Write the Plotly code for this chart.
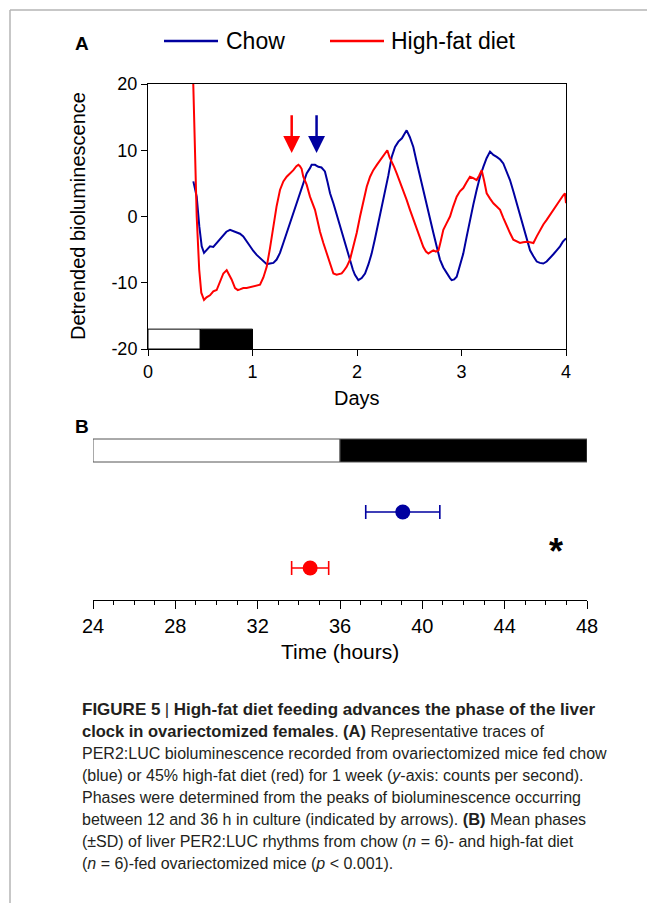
import plotly.graph_objects as go

W, H = 647, 903
FONT = "Liberation Sans, Arial, sans-serif"
BLUE = "#0000a0"
RED = "#ff0000"

# ---------------- Data ----------------
chow_days = [0.434, 0.466, 0.491, 0.514, 0.536, 0.56, 0.593, 0.625, 0.657, 0.69, 0.72, 0.75, 0.785, 0.815,
             0.848, 0.88, 0.912, 0.944, 0.976, 1.008, 1.04, 1.072, 1.104, 1.136, 1.167, 1.2, 1.231, 1.263,
             1.295, 1.327, 1.359, 1.39, 1.423, 1.454, 1.486, 1.518, 1.55, 1.566, 1.598, 1.63, 1.66, 1.693,
             1.718, 1.742, 1.774, 1.805, 1.837, 1.869, 1.9, 1.933, 1.96, 1.98, 2.013, 2.045, 2.077, 2.11,
             2.14, 2.17, 2.204, 2.236, 2.268, 2.30, 2.332, 2.364, 2.396, 2.43, 2.455, 2.475, 2.505, 2.539,
             2.57, 2.603, 2.635, 2.667, 2.70, 2.731, 2.762, 2.794, 2.826, 2.858, 2.89, 2.906, 2.93, 2.954,
             2.985, 3.017, 3.05, 3.081, 3.113, 3.145, 3.177, 3.209, 3.24, 3.273, 3.305, 3.337, 3.37, 3.4,
             3.432, 3.464, 3.496, 3.528, 3.56, 3.592, 3.624, 3.656, 3.688, 3.72, 3.75, 3.783, 3.815, 3.847,
             3.879, 3.911, 3.943, 3.97, 4.0]
chow_vals = [5.3, 3.0, -1.5, -4.5, -5.5, -5.0, -4.5, -4.6, -4.0, -3.3, -2.8, -2.3, -2.0, -2.2,
             -2.3, -2.6, -3.0, -3.8, -4.5, -5.2, -5.8, -6.3, -6.8, -7.2, -7.1, -7.0, -6.5, -5.5,
             -4.0, -2.5, -1.0, 0.5, 2.0, 3.3, 5.0, 6.5, 7.3, 7.8, 7.8, 7.5, 7.4, 6.8,
             5.2, 3.5, 2.0, 0.3, -1.5, -3.3, -5.0, -6.8, -8.0, -8.8, -9.6, -9.3, -8.6, -7.2,
             -5.6, -3.5, -1.0, 1.2, 3.5, 6.2, 9.0, 10.5, 11.3, 11.8, 12.5, 13.0, 12.0, 10.5,
             8.3, 6.0, 4.0, 2.0, -0.3, -2.5, -4.5, -6.5, -7.7, -8.6, -9.3, -9.6, -9.5, -9.1,
             -7.5, -5.6, -3.0, -0.5, 1.8, 4.0, 6.0, 7.5, 8.8, 9.8, 9.3, 9.0, 8.6, 8.0,
             6.8, 5.5, 3.8, 2.0, 0.2, -1.5, -3.3, -5.1, -6.0, -6.8, -7.0, -7.1, -6.8, -6.3,
             -5.7, -5.1, -4.5, -3.8, -3.3]

hfd_days = [0.43, 0.445, 0.466, 0.49, 0.51, 0.536, 0.56, 0.593, 0.625, 0.657, 0.69, 0.721, 0.753, 0.78,
            0.80, 0.833, 0.86, 0.88, 0.912, 0.944, 0.976, 1.008, 1.04, 1.072, 1.104, 1.136, 1.167, 1.199,
            1.23, 1.263, 1.295, 1.327, 1.36, 1.391, 1.42, 1.439, 1.454, 1.47, 1.486, 1.518, 1.55, 1.582,
            1.598, 1.62, 1.646, 1.678, 1.71, 1.742, 1.774, 1.805, 1.837, 1.853, 1.869, 1.901, 1.933, 1.965,
            1.997, 2.029, 2.06, 2.093, 2.125, 2.156, 2.19, 2.22, 2.255, 2.29, 2.31, 2.332, 2.355, 2.38,
            2.41, 2.443, 2.475, 2.507, 2.54, 2.571, 2.603, 2.635, 2.66, 2.683, 2.71, 2.731, 2.755, 2.78,
            2.80, 2.826, 2.858, 2.89, 2.92, 2.954, 2.985, 3.017, 3.05, 3.081, 3.113, 3.145, 3.17, 3.193,
            3.215, 3.241, 3.273, 3.305, 3.337, 3.369, 3.40, 3.432, 3.464, 3.496, 3.528, 3.56, 3.59, 3.624,
            3.656, 3.688, 3.72, 3.751, 3.783, 3.815, 3.847, 3.879, 3.91, 3.943, 3.974, 3.99, 4.0]
hfd_vals = [22.0, 12.0, 0.0, -8.0, -11.5, -12.6, -12.2, -11.9, -11.3, -11.1, -9.8, -8.6, -8.1, -8.8,
            -9.5, -10.8, -11.1, -11.0, -10.8, -10.8, -10.7, -10.6, -10.5, -10.3, -9.2, -7.6, -4.8, -1.5,
            1.5, 4.0, 5.3, 6.0, 6.5, 7.0, 7.6, 7.8, 7.6, 7.2, 6.0, 4.8, 3.0, 1.5,
            1.0, -0.5, -2.3, -4.0, -5.6, -7.2, -8.6, -8.8, -8.7, -8.6, -8.3, -7.6, -6.5, -4.6,
            -2.5, 0.0, 2.3, 4.5, 6.0, 7.0, 7.8, 8.5, 9.2, 10.0, 9.0, 8.3, 7.5, 6.5,
            5.3, 4.0, 2.5, 1.0, -0.5, -2.0, -3.3, -4.6, -5.3, -5.6, -5.3, -5.1, -5.3, -5.1,
            -3.8, -2.0, -1.0, 0.0, 1.5, 3.0, 3.8, 4.3, 5.2, 6.0, 5.8, 5.5, 6.2, 7.0,
            5.5, 3.5, 2.7, 2.0, 1.5, 1.0, -0.2, -1.5, -2.5, -3.5, -3.8, -4.0, -3.9, -3.8,
            -3.9, -4.0, -3.0, -2.0, -1.2, -0.5, 0.3, 1.0, 1.8, 2.5, 3.2, 3.5, 2.0]

# Peak arrows (panel A): day of peak for each series
arrow_days = {"HFD": 1.375, "Chow": 1.613}
arrow_tip_val, arrow_tail_val = 9.6, 15.5

# Light/dark bar for panel A (days) and panel B (hours)
ld_a = [(0.0, 0.5, "white"), (0.5, 1.0, "black")]
ld_b = [(24, 36, "white"), (36, 48, "black")]

# Panel B: mean phase (hours) and SD
groups = ["Chow", "High-fat diet"]
phase_mean = [39.05, 34.55]
phase_sd = [1.8, 0.9]
group_colors = [BLUE, RED]

a_xticks = [0, 1, 2, 3, 4]
a_yticks = [-20, -10, 0, 10, 20]
a_yticktext = ["-20", "-10", "0", "10", "20"]
b_xticks = [24, 28, 32, 36, 40, 44, 48]


def px(x):
    return x / W


def py(y):
    return 1 - y / H


fig = go.Figure()

fig.add_trace(go.Scatter(x=chow_days, y=chow_vals, mode="lines", name="Chow",
                         line=dict(color=BLUE, width=2), xaxis="x", yaxis="y", showlegend=False))
fig.add_trace(go.Scatter(x=hfd_days, y=hfd_vals, mode="lines", name="High-fat diet",
                         line=dict(color=RED, width=2), xaxis="x", yaxis="y", showlegend=False))

row_y = [88, 32]
for g, m, s, c, ry in zip(groups, phase_mean, phase_sd, group_colors, row_y):
    fig.add_trace(go.Scatter(x=[m], y=[ry], mode="markers", name=g,
                             marker=dict(color=c, size=15, symbol="circle"),
                             error_x=dict(type="data", array=[s], color=c, thickness=1.6, width=7),
                             xaxis="x2", yaxis="y2", showlegend=False))

shapes = []
# page border lines
shapes.append(dict(type="line", xref="paper", yref="paper", x0=px(10), x1=px(647), y0=py(10), y1=py(10),
                   line=dict(color="#b5b5b5", width=1.5)))
shapes.append(dict(type="line", xref="paper", yref="paper", x0=px(10), x1=px(10), y0=py(10), y1=py(903),
                   line=dict(color="#b5b5b5", width=1.5)))
for x0, x1, col in ld_a:
    shapes.append(dict(type="rect", xref="x", yref="y", x0=x0, x1=x1, y0=-20, y1=-17,
                       fillcolor=col, line=dict(color="black", width=1), layer="above"))
for x0, x1, col in ld_b:
    shapes.append(dict(type="rect", xref="x2", yref="y2", x0=x0, x1=x1, y0=138, y1=161,
                       fillcolor=col, line=dict(color="#555555", width=1)))
shapes.append(dict(type="line", xref="paper", yref="paper", x0=px(164), x1=px(218), y0=py(41), y1=py(41),
                   line=dict(color=BLUE, width=2.5)))
shapes.append(dict(type="line", xref="paper", yref="paper", x0=px(330), x1=px(384), y0=py(41), y1=py(41),
                   line=dict(color=RED, width=2.5)))

ann = []
ann.append(dict(text="<b>A</b>", x=px(73), y=py(43), xref="paper", yref="paper", xanchor="left",
                yanchor="middle", showarrow=False, font=dict(size=19, family=FONT, color="black")))
ann.append(dict(text="<b>B</b>", x=px(73), y=py(426), xref="paper", yref="paper", xanchor="left",
                yanchor="middle", showarrow=False, font=dict(size=19, family=FONT, color="black")))
ann.append(dict(text="Chow", x=px(224), y=py(41), xref="paper", yref="paper", xanchor="left",
                yanchor="middle", showarrow=False, font=dict(size=23, family=FONT, color="black")))
ann.append(dict(text="High-fat diet", x=px(389), y=py(41), xref="paper", yref="paper", xanchor="left",
                yanchor="middle", showarrow=False, font=dict(size=23, family=FONT, color="black")))
ann.append(dict(text="Detrended bioluminescence", x=px(78), y=py(216), xref="paper", yref="paper",
                xanchor="center", yanchor="middle", textangle=-90, showarrow=False,
                font=dict(size=20, family=FONT, color="black")))
ann.append(dict(text="Days", x=px(357), y=py(398), xref="paper", yref="paper", xanchor="center",
                yanchor="middle", showarrow=False, font=dict(size=20, family=FONT, color="black")))
ann.append(dict(text="Time (hours)", x=px(340), y=py(651), xref="paper", yref="paper", xanchor="center",
                yanchor="middle", showarrow=False, font=dict(size=21, family=FONT, color="black")))
ann.append(dict(text="<b>*</b>", x=46.5, y=49, xref="x2", yref="y2", xanchor="center",
                yanchor="middle", showarrow=False, font=dict(size=36, family=FONT, color="black")))
for key, col in (("HFD", RED), ("Chow", BLUE)):
    d = arrow_days[key]
    ann.append(dict(text="", x=d, y=arrow_tip_val, ax=d, ay=arrow_tail_val, xref="x", yref="y",
                    axref="x", ayref="y", showarrow=True, arrowhead=2, arrowsize=1.35,
                    arrowwidth=2.5, arrowcolor=col, standoff=0))

B17 = '<span style="font-size:17px"><b>{}</b></span>'
B165 = '<span style="font-size:16.5px"><b>{}</b></span>'
caption = [
    B17.format("FIGURE 5") + ' <span style="font-size:17px">|</span> '
    + B17.format("High-fat diet feeding advances the phase of the liver"),
    B165.format("clock in ovariectomized females") + ". " + B165.format("(A)") + " Representative traces of",
    "PER2:LUC bioluminescence recorded from ovariectomized mice fed chow",
    "(blue) or 45% high-fat diet (red) for 1 week (<i>y</i>-axis: counts per second).",
    "Phases were determined from the peaks of bioluminescence occurring",
    "between 12 and 36 h in culture (indicated by arrows). " + B165.format("(B)") + " Mean phases",
    "(±SD) of liver PER2:LUC rhythms from chow (<i>n</i> = 6)- and high-fat diet",
    "(<i>n</i> = 6)-fed ovariectomized mice (<i>p</i> &lt; 0.001).",
]
for i, line in enumerate(caption):
    ann.append(dict(text=line, x=px(80), y=py(709 + 22 * i), xref="paper", yref="paper",
                    xanchor="left", yanchor="middle", showarrow=False,
                    font=dict(size=16, family=FONT, color="#231f20")))

fig.update_layout(
    template="none",
    width=W, height=H, autosize=False,
    margin=dict(l=0, r=0, t=0, b=0, pad=0, autoexpand=False),
    paper_bgcolor="white", plot_bgcolor="white",
    font=dict(family=FONT, color="black"),
    showlegend=False,
    shapes=shapes,
    annotations=ann,
    xaxis=dict(domain=[px(148), px(566)], range=[0, 4], tickvals=a_xticks, ticks="outside",
               ticklen=6, tickcolor="black", showline=True, linecolor="black", linewidth=1,
               mirror=True, showgrid=False, zeroline=False, anchor="y", automargin=False,
               tickfont=dict(size=18, family=FONT, color="black")),
    yaxis=dict(domain=[py(349), py(84)], range=[-20, 20], tickvals=a_yticks, ticktext=a_yticktext,
               ticks="outside", ticklen=6, tickcolor="black", showline=True, linecolor="black",
               linewidth=1, mirror=True, showgrid=False, zeroline=False, anchor="x", automargin=False,
               tickfont=dict(size=18, family=FONT, color="black")),
    xaxis2=dict(domain=[px(93), px(587)], range=[24, 48], tickvals=b_xticks, ticks="outside",
                ticklen=8, tickcolor="black", showline=True, linecolor="black", linewidth=1,
                showgrid=False, zeroline=False, anchor="y2", automargin=False,
                minor=dict(dtick=1, tick0=24, ticks="outside", ticklen=4, tickcolor="black"),
                tickfont=dict(size=20, family=FONT, color="black")),
    yaxis2=dict(domain=[py(600), py(435)], range=[0, 165], visible=False, anchor="x2", automargin=False),
    hovermode=False,
)

fig.write_html("out.html", config={"displayModeBar": False, "responsive": False},
               post_script="document.body.style.margin='0';document.body.style.overflow='hidden';")
